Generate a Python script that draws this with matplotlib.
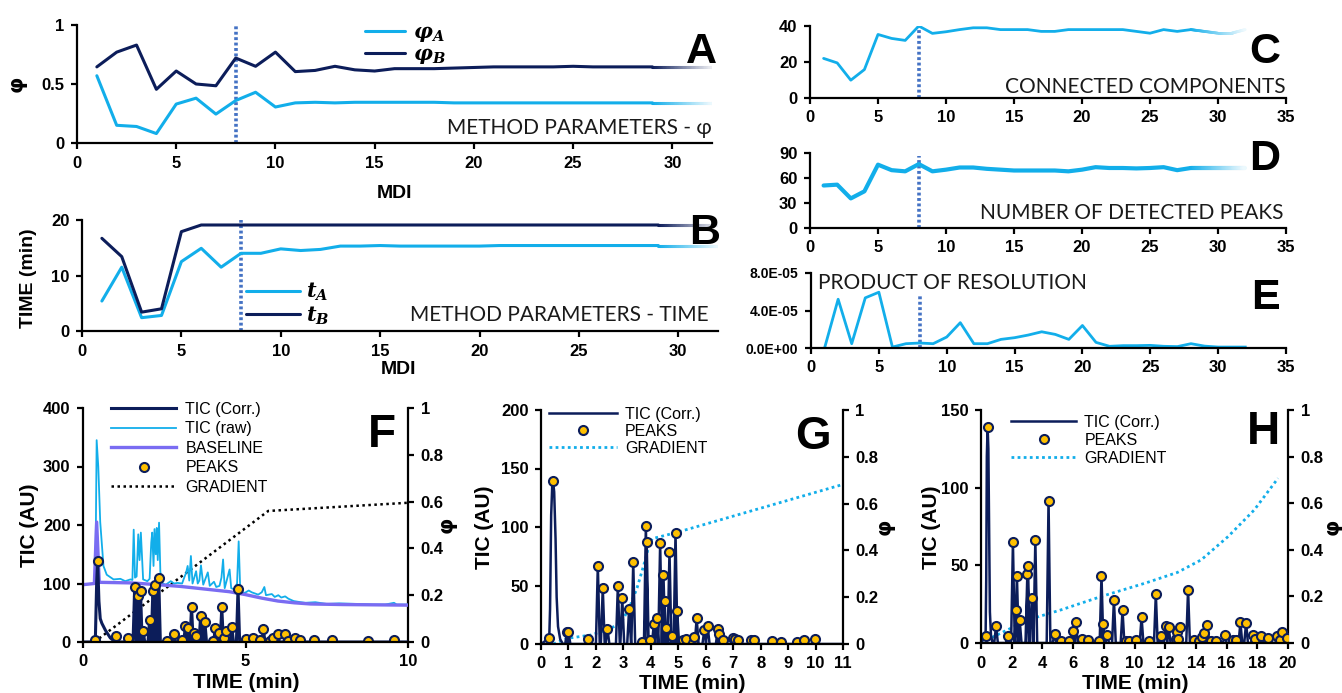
import numpy as np
import matplotlib
matplotlib.use("Agg")
import matplotlib.pyplot as plt
from matplotlib.collections import LineCollection
from matplotlib.colors import to_rgb
from matplotlib.lines import Line2D

plt.rcParams["font.family"] = ["Liberation Sans", "DejaVu Sans"]
plt.rcParams["font.weight"] = "bold"
plt.rcParams["mathtext.fontset"] = "dejavuserif"

# =========================
# DATA - panels A..E (per MDI)
# =========================
mdi = list(range(1, 33))
phi_a = [0.57, 0.15, 0.14, 0.08, 0.33, 0.38, 0.245, 0.36, 0.43, 0.305, 0.34, 0.345,
         0.34, 0.345, 0.345, 0.345, 0.345, 0.345, 0.34, 0.34, 0.34, 0.34, 0.34, 0.34,
         0.34, 0.34, 0.34, 0.34, 0.34, 0.34, 0.34, 0.34]
phi_b = [0.645, 0.77, 0.83, 0.455, 0.61, 0.50, 0.485, 0.72, 0.65, 0.77, 0.605, 0.615,
         0.65, 0.62, 0.61, 0.63, 0.63, 0.63, 0.635, 0.64, 0.645, 0.645, 0.645, 0.645,
         0.65, 0.645, 0.645, 0.645, 0.645, 0.645, 0.645, 0.645]
t_a = [5.4, 11.5, 2.4, 2.8, 12.5, 14.9, 11.5, 14.0, 14.0, 14.8, 14.5, 14.7, 15.3,
       15.3, 15.4, 15.3, 15.3, 15.3, 15.3, 15.3, 15.4, 15.4, 15.4, 15.4, 15.4, 15.4,
       15.4, 15.4, 15.4, 15.4, 15.4, 15.4]
t_b = [16.7, 13.4, 3.4, 4.0, 17.9, 19.1, 19.1, 19.1, 19.1, 19.1, 19.1, 19.1, 19.1,
       19.1, 19.1, 19.1, 19.1, 19.1, 19.1, 19.1, 19.1, 19.1, 19.1, 19.1, 19.1, 19.1,
       19.1, 19.1, 19.1, 19.1, 19.1, 19.1]
components = [22, 19.5, 9.9, 15.8, 35.3, 33.1, 32, 40, 35.9, 36.8, 38, 39, 39, 38, 38,
              38, 37, 37, 38, 38, 38, 38, 38, 37, 36, 38, 37, 38, 37, 36, 36, 38]
n_peaks = [51, 52, 35.5, 44, 76, 69.4, 68, 76.7, 68, 70, 72.6, 72.6, 71, 70, 69, 69,
           69, 69, 68, 70, 73, 72, 72, 71.5, 72, 73, 69.4, 72, 72, 72, 72, 72]
resolution = [0, 5.2e-5, 0.46e-5, 5.35e-5, 5.95e-5, 0.1e-5, 0.46e-5, 0.53e-5, 0.46e-5,
              1.17e-5, 2.7e-5, 0.46e-5, 0.46e-5, 0.92e-5, 1.1e-5, 1.38e-5, 1.73e-5,
              1.45e-5, 0.92e-5, 2.4e-5, 0.6e-5, 0.18e-5, 0.25e-5, 0.25e-5, 0.28e-5,
              0.18e-5, 0.15e-5, 0.46e-5, 0.2e-5, 0.1e-5, 0.1e-5, 0.1e-5]
selected_mdi = 8
e_ticklabels = ["0.0E+00", "4.0E-05", "8.0E-05"]

# =========================
# DATA - chromatogram F
# =========================
f_head_t = [0, 0.33, 0.38, 0.42, 0.45, 0.49, 0.53, 0.58, 0.69, 0.84, 0.99]
f_head_v = [0, 0, 4, 100, 139, 70, 40, 32, 20, 7, 0]
f_peak_t = [0.38, 0.45, 1.03, 1.38, 1.59, 1.70, 1.77, 1.85, 2.05, 2.15, 2.22, 2.33,
            2.59, 2.80, 3.05, 3.15, 3.22, 3.34, 3.42, 3.49, 3.62, 3.75, 4.00, 4.07,
            4.19, 4.27, 4.34, 4.40, 4.58, 4.77, 5.00, 5.24, 5.46, 5.55, 5.74, 5.85,
            5.99, 6.23, 6.32, 6.53, 6.69, 7.10, 7.67, 8.78, 9.57]
f_peak_v = [4, 139, 10, 7, 94, 78, 87, 19, 38, 88, 98, 110, 1, 13, 4, 28, 24, 60, 15,
            10, 45, 34, 2, 24, 15, 59, 6, 19, 25, 91, 5, 6, 3, 22, 2, 7, 14, 14, 1, 7,
            3, 3, 3, 2, 3]
f_raw_t = [0.0, 0.38, 0.42, 0.47, 0.53, 0.63, 0.73, 0.94, 1.15, 1.3, 1.46, 1.52, 1.56,
           1.6, 1.65, 1.70, 1.74, 1.78, 1.85, 1.98, 2.05, 2.10, 2.13, 2.17, 2.2, 2.24,
           2.27, 2.30, 2.34, 2.38, 2.45, 2.55, 2.7, 2.8, 2.91, 3.05, 3.1, 3.17, 3.22,
           3.27, 3.32, 3.37, 3.48, 3.53, 3.58, 3.63, 3.7, 3.84, 3.9, 4.03, 4.1, 4.2,
           4.26, 4.31, 4.36, 4.51, 4.56, 4.65, 4.74, 4.79, 4.84, 4.98, 5.1, 5.19, 5.39,
           5.5, 5.58, 5.63, 5.81, 5.9, 6.01, 6.1, 6.22, 6.32, 6.48, 6.7, 6.84, 7.15,
           7.5, 7.88, 8.5, 8.91, 9.3, 9.57, 9.65, 10.0]
f_raw_v = [98, 100, 345, 300, 205, 130, 115, 107, 108, 104, 107, 106, 192, 110, 112,
           184, 140, 187, 107, 104, 108, 170, 187, 130, 193, 150, 195, 140, 204, 120,
           100, 98, 104, 100, 101, 100, 108, 118, 130, 105, 147, 100, 121, 100, 105,
           131, 98, 119, 96, 103, 94, 96, 110, 141, 92, 124, 92, 90, 100, 172, 86, 84,
           88, 85, 81, 85, 94, 80, 82, 77, 80, 76, 78, 74, 70, 68, 67, 68, 65, 66, 65,
           64, 64, 67, 64, 64]
f_base_t = [0, 0.35, 0.42, 0.5, 1.5, 2.3, 3.0, 3.5, 4.0, 4.5, 5.0, 5.5, 6.0, 6.5, 7.0,
            8.0, 10.0]
f_base_v = [98, 100, 205, 102, 101, 98, 95, 92, 89, 86, 81, 75, 70, 67, 65, 64, 63]
f_grad_t = [0.35, 5.7, 10.0]
f_grad_v = [0.0, 0.56, 0.595]

# =========================
# DATA - chromatogram G
# =========================
g_head_t = [0, 0.30, 0.33, 0.37, 0.41, 0.44, 0.48, 0.53, 0.57, 0.62, 0.70, 0.80]
g_head_v = [0, 5, 30, 110, 136, 139, 130, 90, 40, 15, 4, 0]
g_peak_t = [0.30, 0.44, 0.95, 1.0, 1.73, 2.07, 2.25, 2.42, 2.80, 2.96, 3.21, 3.36,
            3.68, 3.82, 3.85, 3.98, 4.11, 4.21, 4.34, 4.46, 4.50, 4.57, 4.68, 4.78,
            4.90, 4.96, 5.19, 5.28, 5.52, 5.59, 5.67, 5.95, 6.07, 6.44, 6.50, 6.64,
            6.98, 7.07, 7.19, 7.65, 7.77, 8.40, 8.74, 9.31, 9.58, 9.98]
g_peak_v = [5, 139, 10, 10, 4, 67, 48, 13, 50, 39, 30, 70, 2, 101, 87, 3, 17, 22.5,
            86, 59, 37, 14, 79, 7, 95, 28, 3, 4, 1, 6, 22, 12, 15, 12.5, 8.5, 3, 5, 4,
            3, 3, 3, 2.5, 1.5, 1.5, 3, 4]
g_grad_t = [0.45, 0.95, 1.8, 2.4, 2.9, 3.2, 3.5, 3.8, 3.95, 4.05, 4.95, 11.0]
g_grad_v = [0.0, 0.024, 0.038, 0.06, 0.088, 0.15, 0.24, 0.36, 0.43, 0.45, 0.477, 0.682]

# =========================
# DATA - chromatogram H
# =========================
h_head_t = [0, 0.30, 0.34, 0.38, 0.43, 0.48, 0.53, 0.58, 0.65, 0.75]
h_head_v = [0, 4.7, 40, 120, 139, 125, 70, 20, 5, 0]
h_peak_t = [0.30, 0.43, 0.98, 1.74, 2.08, 2.30, 2.34, 2.52, 3.02, 3.06, 3.32, 3.54,
            4.40, 4.79, 5.21, 5.73, 5.99, 6.18, 6.59, 6.98, 7.66, 7.85, 7.96, 8.22,
            8.66, 9.22, 9.44, 9.65, 10.07, 10.46, 10.95, 11.39, 11.71, 12.02, 12.23,
            12.69, 12.80, 12.84, 12.95, 13.49, 13.88, 14.21, 14.40, 14.53, 14.75,
            14.97, 15.29, 15.88, 16.42, 16.64, 16.90, 17.27, 17.72, 17.83, 18.26,
            18.70, 19.30, 19.46, 19.63, 19.91]
h_peak_v = [4.7, 139, 10.7, 4.3, 64.7, 21, 43, 14.6, 44.6, 49.7, 29, 66.4, 91.7, 5.6,
            1.3, 1.3, 7.5, 13.5, 2.4, 1.9, 1.3, 43.3, 12.2, 4.9, 27.9, 21, 1, 1, 1.9,
            16.7, 1, 31.5, 4.3, 10.7, 10, 2.8, 7, 2.4, 10, 34.3, 1.7, 1.3, 3.9, 6.4,
            11.6, 1.3, 1, 4.9, 1.7, 1.7, 13.3, 12.9, 5.4, 2.6, 4.3, 3, 4.3, 1.7, 7, 3]
h_grad_t = [0, 0.9, 3.1, 5.25, 7.85, 10.7, 12.8, 14.35, 16.1, 17.8, 19.35]
h_grad_v = [0, 0.03, 0.1, 0.143, 0.2, 0.257, 0.303, 0.357, 0.457, 0.571, 0.707]

# =========================
# STYLE
# =========================
LIGHT = "#12AEEA"
DARK = "#0C1D5A"
DOTC = "#4472C4"
BASEC = "#7A6CF2"
GOLD = "#FFC000"
LIGHTFONT = ["Lato", "DejaVu Sans"]
NOTE = dict(fontsize=15, family=LIGHTFONT, fontweight="normal", color="#1a1a1a")

W, H = 1342, 693
fig = plt.figure(figsize=(W / 100, H / 100), dpi=100)

# pixel rectangles: left, right, top, bottom
rects = {
    "A": (77, 712, 25, 143),
    "B": (82, 718, 220, 331),
    "C": (810, 1286, 26, 98),
    "D": (810, 1286, 153, 228),
    "E": (811, 1286, 273, 348),
    "F": (83, 408, 408, 642),
    "G": (541, 843, 410, 644),
    "H": (981, 1288, 410, 643),
}


def make_axes(key):
    l, r, t, b = rects[key]
    ax = fig.add_axes([l / W, 1 - b / H, (r - l) / W, (b - t) / H])
    ax.spines["top"].set_visible(False)
    ax.spines["right"].set_visible(False)
    for s in ("left", "bottom"):
        ax.spines[s].set_linewidth(1.6)
    ax.tick_params(direction="out", length=4, width=1.6, labelsize=12, pad=5)
    return ax


def label_at(ax, key, axis, px, py):
    l, r, t, b = rects[key]
    pos = ((px - l) / (r - l), (b - py) / (b - t))
    if axis == "x":
        ax.xaxis.set_label_coords(*pos)
    else:
        ax.yaxis.set_label_coords(*pos)


def fig_text(px, py, s, **kw):
    fig.text(px / W, 1 - py / H, s, **kw)


def faded_line(ax, x, y, color, lw, fade_from, label=None):
    x = np.asarray(x, float)
    y = np.asarray(y, float)
    keep = x <= fade_from
    ax.plot(x[keep], y[keep], color=color, lw=lw, label=label,
            solid_joinstyle="round", solid_capstyle="round")
    xs, ys = x[x >= fade_from], y[x >= fade_from]
    # short pieces along the straight segments so the colour can ramp to white
    fx = np.concatenate([np.linspace(xs[i], xs[i + 1], 15, endpoint=False)
                         for i in range(len(xs) - 1)] + [xs[-1:]])
    fy = np.interp(fx, xs, ys)
    segs = np.stack([np.column_stack([fx[:-1], fy[:-1]]),
                     np.column_stack([fx[1:], fy[1:]])], axis=1)
    base = np.array(to_rgb(color))
    mix = np.linspace(1.0, 0.08, len(segs))
    cols = [tuple(base * m + (1 - m)) for m in mix]
    ax.add_collection(LineCollection(segs, colors=cols, lw=lw, capstyle="round"))


def sel_line(ax, top):
    ax.vlines(selected_mdi, 0, top, colors=DOTC, lw=2.6, linestyles=(0, (0.8, 0.7)),
              zorder=1)


def spike_trace(head_t, head_v, peaks_t, peaks_v, w, xend):
    xs, ys = list(head_t), list(head_v)
    for t, v in sorted(zip(peaks_t, peaks_v)):
        if t <= head_t[-1]:
            continue
        xs += [t - w, t, t + w]
        ys += [0, v, 0]
    xs.append(xend)
    ys.append(0)
    return xs, ys


# =========================
# PANEL A
# =========================
axA = make_axes("A")
sel_line(axA, 1.0)
faded_line(axA, mdi, phi_a, LIGHT, 2.2, 29, label=r"$\mathbfit{\varphi}_{\mathbfit{A}}$")
faded_line(axA, mdi, phi_b, DARK, 2.2, 29, label=r"$\mathbfit{\varphi}_{\mathbfit{B}}$")
axA.set_xlim(0, 32)
axA.set_ylim(0, 1)
axA.set_xticks([0, 5, 10, 15, 20, 25, 30])
axA.set_yticks([0, 0.5, 1])
axA.set_yticklabels(["0", "0.5", "1"])
axA.set_ylabel("φ", fontsize=15, fontweight="bold", family=["DejaVu Sans"])
axA.set_xlabel("MDI", fontsize=14, fontweight="bold")
label_at(axA, "A", "y", 27, 84)
label_at(axA, "A", "x", 395, 185)
axA.legend(loc="upper left", bbox_to_anchor=(365 / W, 1 - 23 / H),
           bbox_transform=fig.transFigure, frameon=False, fontsize=15,
           handlelength=1.9, handletextpad=0.4, labelspacing=0.05,
           borderpad=0, borderaxespad=0)
axA.text(1.0, 0.13, "METHOD PARAMETERS - φ", transform=axA.transAxes, ha="right",
         va="center", **NOTE)

# =========================
# PANEL B
# =========================
axB = make_axes("B")
sel_line(axB, 20.6)
faded_line(axB, mdi, t_a, LIGHT, 2.2, 29, label=r"$\mathbfit{t}_{\mathbfit{A}}$")
faded_line(axB, mdi, t_b, DARK, 2.2, 29, label=r"$\mathbfit{t}_{\mathbfit{B}}$")
axB.set_xlim(0, 32)
axB.set_ylim(0, 20)
axB.set_xticks([0, 5, 10, 15, 20, 25, 30])
axB.set_yticks([0, 10, 20])
axB.set_ylabel("TIME (min)", fontsize=14, fontweight="bold")
axB.set_xlabel("MDI", fontsize=14, fontweight="bold")
label_at(axB, "B", "y", 37, 278)
label_at(axB, "B", "x", 398, 361)
axB.legend(loc="upper left", bbox_to_anchor=(246 / W, 1 - 281 / H),
           bbox_transform=fig.transFigure, frameon=False, fontsize=15,
           handlelength=2.6, handletextpad=0.3, labelspacing=0.05,
           borderpad=0, borderaxespad=0)
axB.text(0.985, 0.14, "METHOD PARAMETERS - TIME", transform=axB.transAxes, ha="right",
         va="center", **NOTE)

# =========================
# PANELS C, D, E
# =========================
axC = make_axes("C")
sel_line(axC, 40)
faded_line(axC, mdi, components, LIGHT, 2.0, 28)
axC.set_xlim(0, 35)
axC.set_ylim(0, 40)
axC.set_yticks([0, 20, 40])
axC.text(1.0, 0.15, "CONNECTED COMPONENTS", transform=axC.transAxes, ha="right",
         va="center", **NOTE)

axD = make_axes("D")
sel_line(axD, 86)
faded_line(axD, mdi, n_peaks, LIGHT, 3.0, 28)
axD.set_xlim(0, 35)
axD.set_ylim(0, 90)
axD.set_yticks([0, 30, 60, 90])
axD.text(0.995, 0.2, "NUMBER OF DETECTED PEAKS", transform=axD.transAxes, ha="right",
         va="center", **NOTE)

axE = make_axes("E")
sel_line(axE, 5.5e-5)
axE.plot(mdi, resolution, color=LIGHT, lw=2.0)
axE.set_xlim(0, 35)
axE.set_ylim(0, 8e-5)
axE.set_yticks([0, 4e-5, 8e-5])
axE.set_yticklabels(e_ticklabels, fontsize=10)
axE.text(0.015, 0.87, "PRODUCT OF RESOLUTION", transform=axE.transAxes, ha="left",
         va="center", **NOTE)
for a in (axC, axD, axE):
    a.set_xticks([0, 5, 10, 15, 20, 25, 30, 35])

# =========================
# CHROMATOGRAMS F, G, H
# =========================
mk = dict(ls="none", marker="o", ms=6.5, mfc=GOLD, mec=DARK, mew=1.5)
LEGPROP = dict(size=11.5, weight="normal")


def chrom_axes(key, xmax, ymax, yticks, xticks):
    ax = make_axes(key)
    ax2 = ax.twinx()
    ax2.spines["top"].set_visible(False)
    ax2.spines["left"].set_visible(False)
    ax2.spines["bottom"].set_visible(False)
    ax2.spines["right"].set_linewidth(1.6)
    ax2.tick_params(direction="out", length=4, width=1.6, labelsize=12, pad=5)
    ax.set_zorder(ax2.get_zorder() + 1)
    ax.patch.set_visible(False)
    ax.set_xlim(0, xmax)
    ax.set_ylim(0, ymax)
    ax.set_yticks(yticks)
    ax.set_xticks(xticks)
    ax2.set_ylim(0, 1)
    ax2.set_yticks([0, 0.2, 0.4, 0.6, 0.8, 1])
    ax2.set_yticklabels(["0", "0.2", "0.4", "0.6", "0.8", "1"])
    ax.set_ylabel("TIC (AU)", fontsize=15, fontweight="bold")
    ax.set_xlabel("TIME (min)", fontsize=15, fontweight="bold")
    ax2.set_ylabel("φ", fontsize=15, fontweight="bold", family=["DejaVu Sans"])
    return ax, ax2


# F
axF, axF2 = chrom_axes("F", 10, 400, [0, 100, 200, 300, 400], [0, 5, 10])
axF.plot(f_raw_t, f_raw_v, color=LIGHT, lw=1.3, label="TIC (raw)")
axF.plot(f_base_t, f_base_v, color=BASEC, lw=2.4, label="BASELINE")
fx, fy = spike_trace(f_head_t, f_head_v, f_peak_t, f_peak_v, 0.05, 10)
axF.plot(fx, fy, color=DARK, lw=2.2, label="TIC (Corr.)")
axF.plot(f_peak_t, f_peak_v, label="PEAKS", **mk)
axF2.plot(f_grad_t, f_grad_v, color="black", lw=1.8, ls=(0, (1, 1.4)))
label_at(axF, "F", "y", 39, 525)
label_at(axF, "F", "x", 246, 673)
label_at(axF2, "F", "y", 437, 525)
hF = [Line2D([], [], color=DARK, lw=2.2), Line2D([], [], color=LIGHT, lw=1.3),
      Line2D([], [], color=BASEC, lw=2.4), Line2D([], [], **mk),
      Line2D([], [], color="black", lw=1.8, ls=(0, (1, 1.4)))]
axF.legend(hF, ["TIC (Corr.)", "TIC (raw)", "BASELINE", "PEAKS", "GRADIENT"],
           loc="upper left", bbox_to_anchor=(111 / W, 1 - 402 / H),
           bbox_transform=fig.transFigure, frameon=False, numpoints=1,
           prop=LEGPROP, handlelength=4.1, handletextpad=0.55, labelspacing=0.28,
           borderpad=0, borderaxespad=0)

# G
axG, axG2 = chrom_axes("G", 11, 200, [0, 50, 100, 150, 200], list(range(12)))
gx, gy = spike_trace(g_head_t, g_head_v, g_peak_t, g_peak_v, 0.07, 11)
axG.plot(gx, gy, color=DARK, lw=1.8)
axG.plot(g_peak_t, g_peak_v, **mk)
axG2.plot(g_grad_t, g_grad_v, color=LIGHT, lw=2.0, ls=(0, (1, 1.2)))
label_at(axG, "G", "y", 494, 527)
label_at(axG, "G", "x", 692, 674)
label_at(axG2, "G", "y", 875, 527)
hG = [Line2D([], [], color=DARK, lw=1.8), Line2D([], [], **mk),
      Line2D([], [], color=LIGHT, lw=2.0, ls=(0, (1, 1.2)))]
axG.legend(hG, ["TIC (Corr.)", "PEAKS", "GRADIENT"],
           loc="upper left", bbox_to_anchor=(549 / W, 1 - 407 / H),
           bbox_transform=fig.transFigure, frameon=False, numpoints=1,
           prop=LEGPROP, handlelength=4.25, handletextpad=0.5, labelspacing=0.12,
           borderpad=0, borderaxespad=0)

# H
axH, axH2 = chrom_axes("H", 20, 150, [0, 50, 100, 150], list(range(0, 21, 2)))
hx, hy = spike_trace(h_head_t, h_head_v, h_peak_t, h_peak_v, 0.12, 20)
axH.plot(hx, hy, color=DARK, lw=1.8)
axH.plot(h_peak_t, h_peak_v, **mk)
axH2.plot(h_grad_t, h_grad_v, color=LIGHT, lw=2.0, ls=(0, (1, 1.2)))
label_at(axH, "H", "y", 941, 527)
label_at(axH, "H", "x", 1135, 674)
label_at(axH2, "H", "y", 1323, 527)
hH = [Line2D([], [], color=DARK, lw=1.8), Line2D([], [], **mk),
      Line2D([], [], color=LIGHT, lw=2.0, ls=(0, (1, 1.2)))]
axH.legend(hH, ["TIC (Corr.)", "PEAKS", "GRADIENT"],
           loc="upper left", bbox_to_anchor=(1011 / W, 1 - 415 / H),
           bbox_transform=fig.transFigure, frameon=False, numpoints=1,
           prop=LEGPROP, handlelength=4.1, handletextpad=0.5, labelspacing=0.19,
           borderpad=0, borderaxespad=0)

# =========================
# PANEL LETTERS
# =========================
letters = {"A": (701, 52, 31), "B": (705, 233, 31), "C": (1265, 52, 31),
           "D": (1265, 159, 31), "E": (1265, 298, 31), "F": (382, 435, 33),
           "G": (813, 437, 33), "H": (1263, 432, 33)}
for k, (px, py, fs) in letters.items():
    fig_text(px, py, k, fontsize=fs, fontweight="bold", ha="center", va="center")

fig.savefig("out.png", dpi=100)
